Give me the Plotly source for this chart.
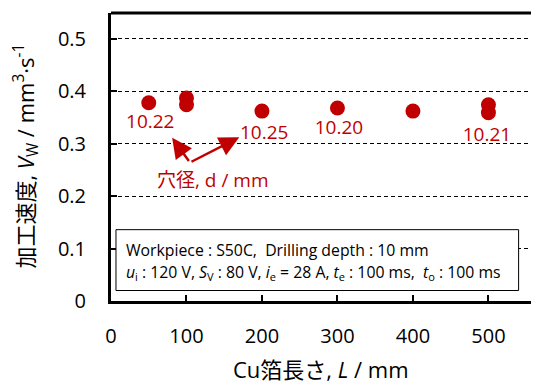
import plotly.graph_objects as go

L_mm = [50, 100, 100, 200, 300, 400, 500, 500]
Vw = [0.378, 0.387, 0.374, 0.362, 0.368, 0.362, 0.374, 0.359]

label_x = [52, 203, 302, 498]
label_y = [0.338, 0.317, 0.327, 0.315]
label_text = ["10.22", "10.25", "10.20", "10.21"]

yticks = [0, 0.1, 0.2, 0.3, 0.4, 0.5]
ytick_text = ["0", "0.1", "0.2", "0.3", "0.4", "0.5"]
xticks = [0, 100, 200, 300, 400, 500]

RED = "#C00000"
FONT = "Open Sans, Noto Sans CJK JP"

# the page body keeps its default 8px margin, so the figure is offset by 8px
OFF = 8
W, H = 539 - OFF, 383 - OFF
L, T, B = 111 - OFF, 13.3 - OFF, 81.5
PW = W - L
PH = H - T - B

fig = go.Figure()
fig.add_trace(go.Scatter(x=L_mm, y=Vw, mode="markers",
                         marker=dict(size=15, color=RED), showlegend=False))
fig.add_trace(go.Scatter(x=label_x, y=label_y, mode="text", text=label_text,
                         textfont=dict(size=19, color=RED, family=FONT),
                         showlegend=False))

fig.update_layout(
    width=W, height=H,
    margin=dict(l=L, r=0, t=T, b=B, autoexpand=False),
    plot_bgcolor="white", paper_bgcolor="white",
    font=dict(family=FONT, size=20, color="black"),
    xaxis=dict(range=[0, 567], tickvals=xticks, ticks="inside", ticklen=6,
               tickwidth=1.5, tickcolor="black", showline=True, linecolor="black",
               linewidth=3, showgrid=False, zeroline=False,
               tickfont=dict(size=20), ticklabelstandoff=15),
    yaxis=dict(range=[0, 0.549], tickvals=yticks, ticktext=ytick_text,
               ticks="inside", ticklen=6, tickwidth=1.5, tickcolor="black",
               showline=True, linecolor="black", linewidth=3,
               showgrid=True, gridcolor="black", griddash="4px,3px", gridwidth=1,
               zeroline=False, tickfont=dict(size=20), ticklabelstandoff=18),
)

# top border
fig.add_shape(type="line", xref="paper", yref="paper", x0=0, x1=1, y0=1, y1=1,
              line=dict(color="black", width=3))

# condition box
fig.add_shape(type="rect", xref="x", yref="y", x0=6.6, x1=540, y0=0.020, y1=0.136,
              line=dict(color="black", width=1), fillcolor="white", layer="above")
fig.add_annotation(x=17, y=0.097, xref="x", yref="y", xanchor="left", showarrow=False,
                   text="Workpiece : S50C,  Drilling depth : 10 mm",
                   font=dict(size=15.8, family=FONT))
fig.add_annotation(x=17, y=0.055, xref="x", yref="y", xanchor="left", showarrow=False,
                   text="<i>u</i><sub>i</sub> : 120 V, <i>S</i><sub>V</sub> : 80 V, <i>i</i><sub>e</sub> = 28 A, <i>t</i><sub>e</sub> : 100 ms,  <i>t</i><sub>o</sub> : 100 ms",
                   font=dict(size=15.8, family=FONT))

# hole diameter annotation and arrows
fig.add_annotation(x=135, y=0.231, xref="x", yref="y", showarrow=False,
                   text="穴径, d / mm", font=dict(size=19, color=RED, family=FONT))
for ax_, ay_, x_, y_ in [(104.6, 0.264, 81, 0.311), (104.6, 0.264, 170, 0.312)]:
    fig.add_annotation(x=x_, y=y_, ax=ax_, ay=ay_, xref="x", yref="y",
                       axref="x", ayref="y", showarrow=True, arrowhead=2,
                       arrowsize=1.6, arrowwidth=2.5, arrowcolor=RED, text="")

# axis titles (page coords minus offset)
fig.add_annotation(xref="paper", yref="paper", x=(321 - OFF - L) / PW,
                   y=(H - B - (370 - OFF)) / PH,
                   showarrow=False, text="Cu箔長さ, <i>L</i> / mm",
                   font=dict(size=22, family=FONT), yanchor="middle", xanchor="center")
fig.add_annotation(xref="paper", yref="paper", x=(26 - OFF - L) / PW,
                   y=(H - B - (157 - OFF)) / PH,
                   showarrow=False, textangle=-90,
                   text="加工速度, <i>V</i><sub>W</sub> / mm<sup>3</sup>·s<sup>-1</sup>",
                   font=dict(size=22, family=FONT), xanchor="center", yanchor="middle")

fig.write_html("out.html")
